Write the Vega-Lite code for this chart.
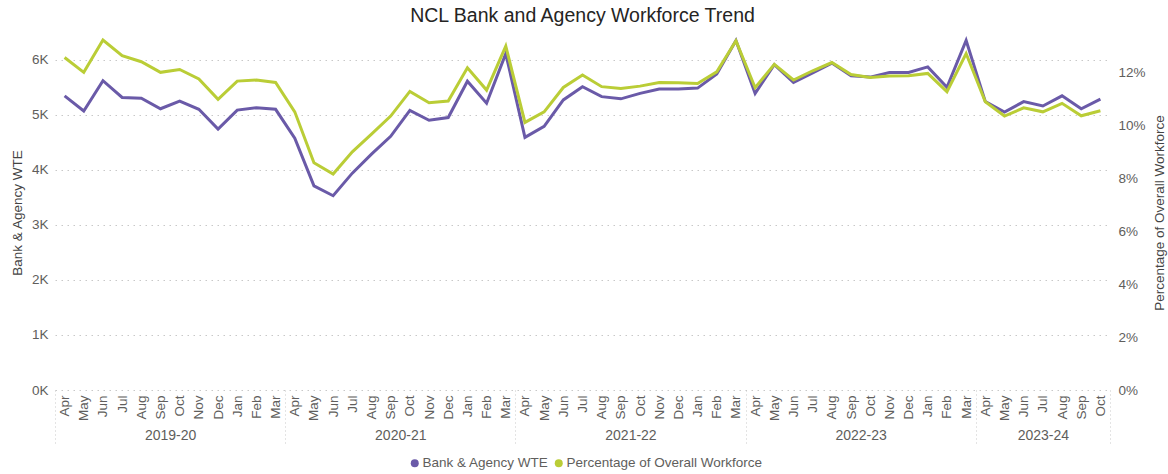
{
  "$schema": "https://vega.github.io/schema/vega-lite/v6.json",
  "autosize": "none",
  "width": 1055,
  "height": 355,
  "padding": {"left": 55, "top": 35, "right": 58, "bottom": 84},
  "title": {"text": "NCL Bank and Agency Workforce Trend", "fontSize": 19.5, "fontWeight": "normal", "color": "#252423", "anchor": "middle", "offset": 8, "font": "Liberation Sans"},
  "config": {"font": "Liberation Sans", "view": {"stroke": null}},
  "data": {"values": [
    {"period": "2019-20 Apr", "wte": 5345, "pct": 0.1255},
    {"period": "2019-20 May", "wte": 5070, "pct": 0.1199},
    {"period": "2019-20 Jun", "wte": 5620, "pct": 0.1321},
    {"period": "2019-20 Jul", "wte": 5315, "pct": 0.1262},
    {"period": "2019-20 Aug", "wte": 5300, "pct": 0.1239},
    {"period": "2019-20 Sep", "wte": 5110, "pct": 0.1199},
    {"period": "2019-20 Oct", "wte": 5250, "pct": 0.1210},
    {"period": "2019-20 Nov", "wte": 5100, "pct": 0.1174},
    {"period": "2019-20 Dec", "wte": 4740, "pct": 0.1097},
    {"period": "2019-20 Jan", "wte": 5085, "pct": 0.1166},
    {"period": "2019-20 Feb", "wte": 5130, "pct": 0.1170},
    {"period": "2019-20 Mar", "wte": 5100, "pct": 0.1161},
    {"period": "2020-21 Apr", "wte": 4575, "pct": 0.1050},
    {"period": "2020-21 May", "wte": 3710, "pct": 0.0858},
    {"period": "2020-21 Jun", "wte": 3530, "pct": 0.0815},
    {"period": "2020-21 Jul", "wte": 3940, "pct": 0.0899},
    {"period": "2020-21 Aug", "wte": 4285, "pct": 0.0966},
    {"period": "2020-21 Sep", "wte": 4610, "pct": 0.1034},
    {"period": "2020-21 Oct", "wte": 5080, "pct": 0.1127},
    {"period": "2020-21 Nov", "wte": 4900, "pct": 0.1084},
    {"period": "2020-21 Dec", "wte": 4950, "pct": 0.1091},
    {"period": "2020-21 Jan", "wte": 5610, "pct": 0.1216},
    {"period": "2020-21 Feb", "wte": 5210, "pct": 0.1132},
    {"period": "2020-21 Mar", "wte": 6110, "pct": 0.1298},
    {"period": "2021-22 Apr", "wte": 4590, "pct": 0.1010},
    {"period": "2021-22 May", "wte": 4790, "pct": 0.1050},
    {"period": "2021-22 Jun", "wte": 5270, "pct": 0.1142},
    {"period": "2021-22 Jul", "wte": 5510, "pct": 0.1189},
    {"period": "2021-22 Aug", "wte": 5330, "pct": 0.1145},
    {"period": "2021-22 Sep", "wte": 5290, "pct": 0.1138},
    {"period": "2021-22 Oct", "wte": 5390, "pct": 0.1147},
    {"period": "2021-22 Nov", "wte": 5470, "pct": 0.1161},
    {"period": "2021-22 Dec", "wte": 5470, "pct": 0.1160},
    {"period": "2021-22 Jan", "wte": 5485, "pct": 0.1157},
    {"period": "2021-22 Feb", "wte": 5740, "pct": 0.1201},
    {"period": "2021-22 Mar", "wte": 6350, "pct": 0.1318},
    {"period": "2022-23 Apr", "wte": 5390, "pct": 0.1141},
    {"period": "2022-23 May", "wte": 5910, "pct": 0.1229},
    {"period": "2022-23 Jun", "wte": 5590, "pct": 0.1170},
    {"period": "2022-23 Jul", "wte": 5760, "pct": 0.1205},
    {"period": "2022-23 Aug", "wte": 5940, "pct": 0.1236},
    {"period": "2022-23 Sep", "wte": 5710, "pct": 0.1191},
    {"period": "2022-23 Oct", "wte": 5685, "pct": 0.1180},
    {"period": "2022-23 Nov", "wte": 5770, "pct": 0.1185},
    {"period": "2022-23 Dec", "wte": 5770, "pct": 0.1186},
    {"period": "2022-23 Jan", "wte": 5870, "pct": 0.1195},
    {"period": "2022-23 Feb", "wte": 5500, "pct": 0.1126},
    {"period": "2022-23 Mar", "wte": 6350, "pct": 0.1270},
    {"period": "2023-24 Apr", "wte": 5240, "pct": 0.1088},
    {"period": "2023-24 May", "wte": 5050, "pct": 0.1034},
    {"period": "2023-24 Jun", "wte": 5240, "pct": 0.1065},
    {"period": "2023-24 Jul", "wte": 5160, "pct": 0.1050},
    {"period": "2023-24 Aug", "wte": 5345, "pct": 0.1082},
    {"period": "2023-24 Sep", "wte": 5110, "pct": 0.1035},
    {"period": "2023-24 Oct", "wte": 5285, "pct": 0.1054}
  ]},
  "layer": [
    {
      "mark": {"type": "line", "strokeWidth": 3},
      "encoding": {
        "x": {
          "field": "period", "type": "ordinal", "sort": null, "scale": {"type": "point"},
          "axis": {
            "orient": "bottom", "title": null, "domain": false, "grid": false,
            "labelAngle": -90, "labelAlign": "right", "labelBaseline": "middle",
            "labelExpr": "slice(datum.value, 8)",
            "labelColor": "#605E5C", "labelFontSize": 13.5,
            "labelPadding": -50, "tickSize": 55, "tickOffset": -9.59, "labelOffset": 9.59,
            "tickColor": "#C8C8C8", "tickDash": [1, 3], "tickWidth": 1,
            "tickOpacity": {"condition": {"test": "indexof(datum.value, 'Apr') >= 0", "value": 1}, "value": 0},
            "labelOverlap": false, "labelBound": false
          }
        },
        "y": {
          "field": "wte", "type": "quantitative",
          "scale": {"domain": [0, 6450], "nice": false},
          "axis": {
            "orient": "left", "title": "Bank & Agency WTE",
            "values": [0, 1000, 2000, 3000, 4000, 5000, 6000],
            "labelExpr": "(datum.value / 1000) + 'K'",
            "domain": false, "ticks": false, "grid": true,
            "gridColor": "#C8C8C8", "gridDash": [1.5, 4.5], "gridWidth": 1,
            "labelColor": "#605E5C", "labelFontSize": 13.5, "labelPadding": 7,
            "titleFontSize": 13.5, "titleFontWeight": "normal", "titleColor": "#444444", "titlePadding": 7
          }
        },
        "color": {
          "datum": "Bank & Agency WTE", "type": "nominal",
          "scale": {"domain": ["Bank & Agency WTE", "Percentage of Overall Workforce"], "range": ["#6A5AA8", "#BACD36"]},
          "legend": {
            "orient": "none", "legendX": 353, "legendY": 421, "direction": "horizontal", "title": null,
            "symbolType": "circle", "symbolSize": 64, "labelLimit": 0,
            "labelFontSize": 13.5, "labelColor": "#605E5C", "labelOffset": 1,
            "columnPadding": 3,
            "encode": {"symbols": {"update": {"fill": {"scale": "color", "field": "value"}, "strokeWidth": {"value": 0}}}}
          }
        }
      }
    },
    {
      "mark": {"type": "line", "strokeWidth": 3},
      "encoding": {
        "x": {
          "field": "period", "type": "ordinal", "sort": null, "scale": {"type": "point"},
          "axis": {
            "orient": "bottom", "title": null, "domain": false, "grid": false,
            "values": ["2019-20 Oct", "2020-21 Oct", "2021-22 Oct", "2022-23 Oct", "2023-24 Jul", "2023-24 Oct"],
            "labelExpr": "datum.value == '2023-24 Oct' ? '' : slice(datum.value, 0, 7)",
            "labelAngle": 0, "labelAlign": "center", "labelBaseline": "top",
            "labelFontSize": 14, "labelColor": "#605E5C",
            "tickSize": 55, "tickOffset": 9.59,
            "labelOffset": {"condition": {"test": "datum.value == '2023-24 Jul'", "value": -9.59}, "value": -19.18},
            "tickColor": "#C8C8C8", "tickDash": [1, 3], "tickWidth": 1,
            "tickOpacity": {"condition": {"test": "datum.value == '2023-24 Oct'", "value": 1}, "value": 0},
            "labelPadding": -17, "labelOverlap": false, "labelBound": false
          }
        },
        "y": {
          "field": "pct", "type": "quantitative",
          "scale": {"domain": [0, 0.134], "nice": false},
          "axis": {
            "orient": "right", "title": "Percentage of Overall Workforce",
            "values": [0, 0.02, 0.04, 0.06, 0.08, 0.1, 0.12],
            "format": ".0%", "domain": false, "ticks": false, "grid": false,
            "labelColor": "#605E5C", "labelFontSize": 13.5, "labelPadding": 8,
            "titleFontSize": 13.5, "titleFontWeight": "normal", "titleColor": "#444444",
            "titleAngle": 270, "titlePadding": 21
          }
        },
        "color": {"datum": "Percentage of Overall Workforce", "type": "nominal"}
      }
    }
  ],
  "resolve": {"scale": {"y": "independent"}, "axis": {"x": "independent"}}
}
